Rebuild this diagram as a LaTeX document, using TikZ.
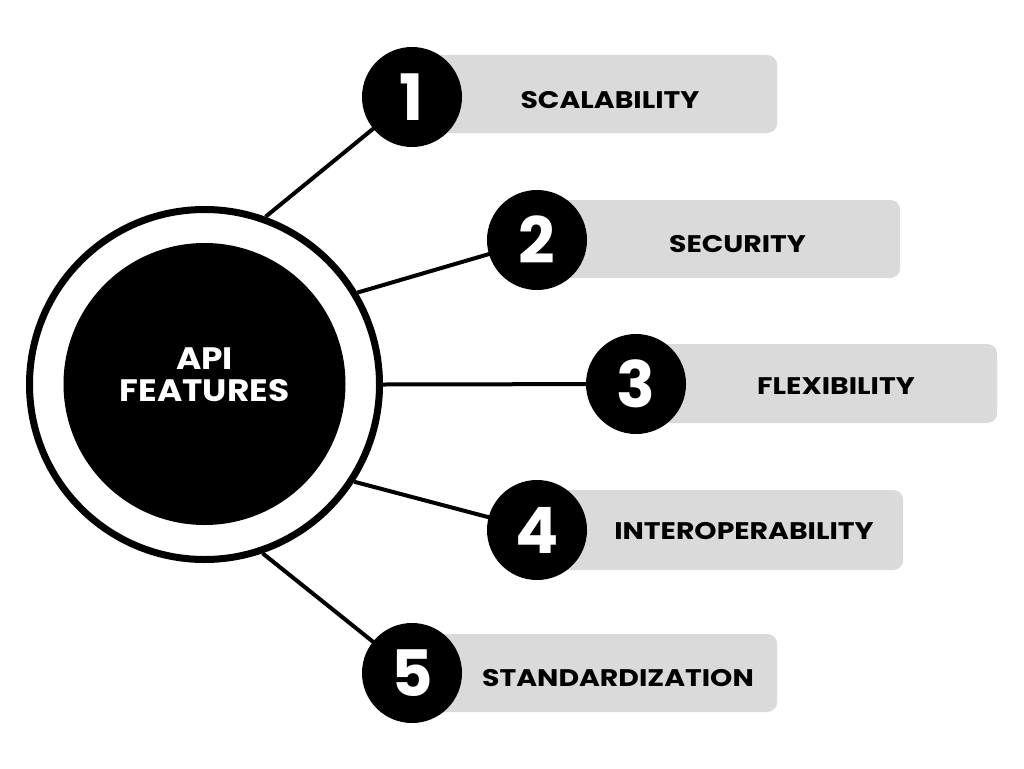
\documentclass[tikz,border=0pt]{standalone}
\usepackage{fontspec}
\setmainfont{Poppins}
\usetikzlibrary{backgrounds}
\definecolor{boxgray}{HTML}{DADADA}
\newcommand{\wide}[2][1.18]{\scalebox{#1}[1]{#2}}
\begin{document}
\begin{tikzpicture}[x=1pt,y=-1pt,
  conn/.style={line width=4pt, draw=black},
  numc/.style={circle, fill=black, minimum size=100pt, inner sep=0pt, text=white, text depth=0pt,
    font=\fontsize{64}{64}\selectfont\bfseries},
  gbox/.style={fill=boxgray, rounded corners=10pt, inner sep=0pt, anchor=west},
  lbl/.style={font=\fontsize{24}{24}\selectfont\bfseries, text=black, inner sep=0pt, text depth=0pt}]
\useasboundingbox (0,0) rectangle (1024,768);
% gray label boxes
\node[gbox, minimum width=365pt, minimum height=78pt] (b1) at (412,94) {};
\node[gbox, minimum width=363pt, minimum height=78pt] (b2) at (537,239) {};
\node[gbox, minimum width=361pt, minimum height=79pt] (b3) at (636,383.5) {};
\node[gbox, minimum width=366pt, minimum height=80pt] (b4) at (537,530) {};
\node[gbox, minimum width=365pt, minimum height=78pt] (b5) at (412,673) {};
% hub
\node[circle, draw=black, line width=7pt, fill=white, minimum size=350pt, inner sep=0pt] (ring) at (204.5,384.5) {};
\node[circle, fill=black, minimum size=282pt, inner sep=0pt] (hub) at (204.5,384) {};
\node[text=white, align=center, inner sep=0pt, font=\fontsize{31}{32}\selectfont\bfseries] (hubtxt) at (204.5,375) {\wide[1.11]{API}\\\wide[1.11]{FEATURES}};
% number circles
\node[numc] (n1) at (412,97) {1};
\node[numc] (n2) at (537,240) {2};
\node[numc] (n3) at (636,384) {3};
\node[numc] (n4) at (537,530) {4};
\node[numc] (n5) at (412,673) {5};
% labels
\node[lbl] (l1) at (610,100) {\wide{SCALABILITY}};
\node[lbl] (l2) at (737.5,243.5) {\wide{SECURITY}};
\node[lbl] (l3) at (836,386) {\wide{FLEXIBILITY}};
\node[lbl] (l4) at (744,531) {\wide{INTEROPERABILITY}};
\node[lbl] (l5) at (618,677.5) {\wide{STANDARDIZATION}};
% connectors
\begin{pgfonlayer}{background}
\fill[white] (0,0) rectangle (1024,768);
\draw[conn] (ring.70) -- (n1.center);
\draw[conn] (ring.31) -- (n2.center);
\draw[conn] (ring.0) -- (n3.center);
\draw[conn] (ring.-33) -- (n4.center);
\draw[conn] (ring.-71) -- (n5.center);
\end{pgfonlayer}
\end{tikzpicture}
\end{document}
